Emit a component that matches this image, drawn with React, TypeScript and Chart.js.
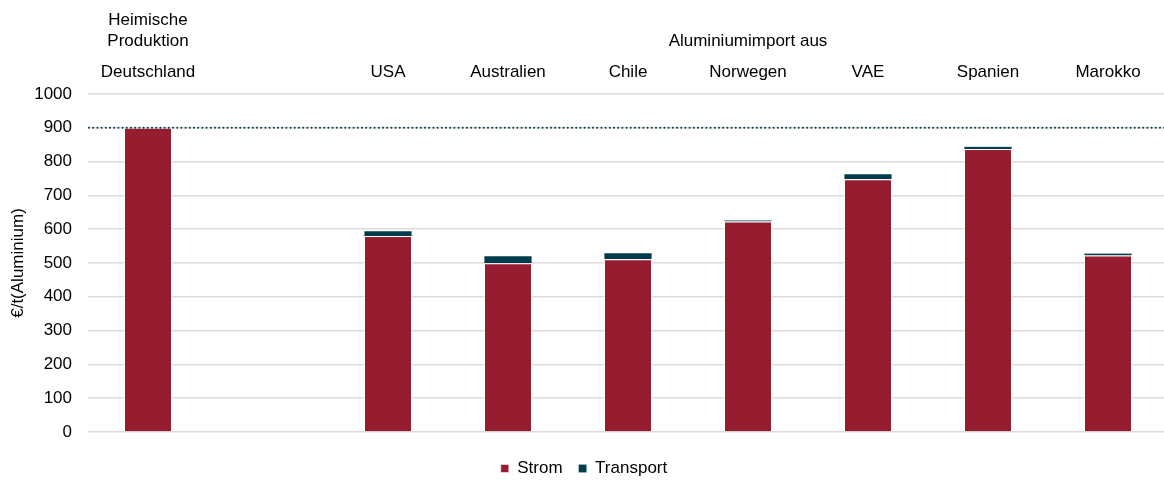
import React, { useEffect, useRef } from "react";
import { Chart, registerables } from "chart.js";

Chart.register(...registerables);

const categories = ["Deutschland", "", "USA", "Australien", "Chile", "Norwegen", "VAE", "Spanien", "Marokko"];
const stromValues = [900, null, 580, 499, 511, 623, 748, 837, 522];
const transportValues = [0, null, 15, 22, 19, 4, 16, 8, 7];
const referenceLevel = 900;
const yTicks = { min: 0, max: 1000, step: 100 };
const headerLeft = ["Heimische", "Produktion"];
const headerRight = "Aluminiumimport aus";

const FONT = "'Liberation Sans', Arial, sans-serif";
const FS = 17;

const overlayPlugin = {
  id: "overlay",
  afterDatasetsDraw(chart: any) {
    const { ctx, chartArea, scales } = chart;
    const y = scales.y.getPixelForValue(referenceLevel);
    ctx.save();
    ctx.strokeStyle = "#003d4c";
    ctx.lineWidth = 2;
    ctx.lineCap = "round";
    ctx.setLineDash([0, 4.2]);
    ctx.beginPath();
    ctx.moveTo(chartArea.left + 1, y);
    ctx.lineTo(chartArea.right, y);
    ctx.stroke();
    ctx.restore();
  },
  afterDraw(chart: any) {
    const { ctx, scales } = chart;
    const x = scales.x;
    ctx.save();
    ctx.fillStyle = "#000";
    ctx.font = `${FS}px ${FONT}`;
    ctx.textAlign = "center";
    ctx.textBaseline = "middle";
    const x0 = x.getPixelForValue(0);
    ctx.fillText(headerLeft[0], x0, 20);
    ctx.fillText(headerLeft[1], x0, 41);
    const xr = (x.getPixelForValue(2) + x.getPixelForValue(categories.length - 1)) / 2;
    ctx.fillText(headerRight, xr, 41);
    ctx.restore();
  },
};

export default function App() {
  const ref = useRef<HTMLCanvasElement | null>(null);
  useEffect(() => {
    if (!ref.current) return;
    const chart = new Chart(ref.current, {
      type: "bar",
      data: {
        labels: categories,
        datasets: [
          {
            label: "Strom",
            data: stromValues as any,
            backgroundColor: "#961c30",
            borderColor: "rgba(255,255,255,0.5)",
            borderWidth: 1,
            categoryPercentage: 0.4,
            barPercentage: 1,
          },
          {
            label: "Transport",
            data: transportValues as any,
            backgroundColor: "#003c4b",
            borderColor: "rgba(255,255,255,0.4)",
            borderWidth: 0.4,
            categoryPercentage: 0.4,
            barPercentage: 1,
          },
        ],
      },
      options: {
        responsive: false,
        animation: false,
        devicePixelRatio: 1,
        layout: { padding: { left: 0, right: 12, top: 55, bottom: 0 } },
        scales: {
          x: {
            position: "top",
            stacked: true,
            grid: { display: false, drawTicks: false },
            border: { display: false },
            ticks: { color: "#000", font: { family: FONT, size: FS }, padding: 11, maxRotation: 0, autoSkip: false },
            afterFit: (s: any) => { s.height = 39; },
          },
          y: {
            stacked: true,
            min: yTicks.min,
            max: yTicks.max,
            ticks: {
              stepSize: yTicks.step,
              color: "#000",
              font: { family: FONT, size: FS },
              padding: 16,
              callback: (v: any) => String(v),
            },
            grid: { color: "#dedbd8", lineWidth: 1.5, drawTicks: false },
            border: { display: false },
            title: {
              display: true,
              text: "€/t(Aluminium)",
              color: "#000",
              font: { family: FONT, size: FS },
              padding: { top: 8, bottom: 0 },
            },
            afterFit: (s: any) => { s.width = 88; },
          },
        },
        plugins: {
          legend: {
            position: "bottom",
            title: { display: true, text: " ", font: { size: 10 }, padding: 0 },
            labels: {
              boxWidth: 8,
              boxHeight: 8,
              padding: 16,
              color: "#000",
              font: { family: FONT, size: FS },
            },
          },
          tooltip: { enabled: false },
        },
      },
      plugins: [overlayPlugin],
    });
    return () => chart.destroy();
  }, []);
  return (
    <div style={{ position: "fixed", left: 0, top: 0, width: 1164, height: 481, overflow: "hidden", background: "#fff" }}>
      <canvas ref={ref} width={1180} height={487} style={{ display: "block" }} />
    </div>
  );
}
